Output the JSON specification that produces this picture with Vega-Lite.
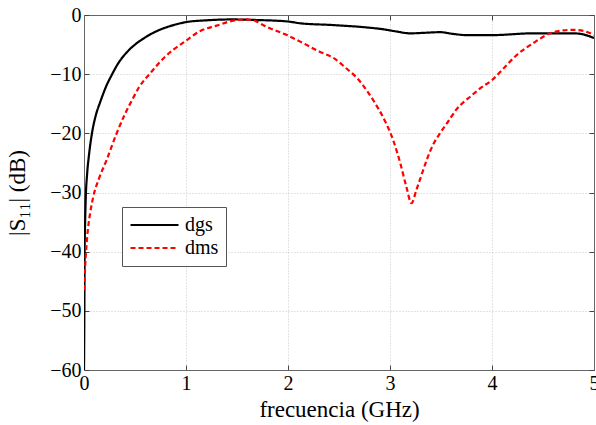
{
  "$schema": "https://vega.github.io/schema/vega-lite/v6.json",
  "width": 510,
  "height": 355,
  "autosize": "none",
  "padding": {"left": 84, "top": 15, "right": 2, "bottom": 55},
  "background": "white",
  "config": {
    "font": "Liberation Serif",
    "view": {"stroke": "#666666", "strokeWidth": 1},
    "axis": {
      "labelFont": "Liberation Serif",
      "titleFont": "Liberation Serif",
      "labelFontSize": 20,
      "titleFontSize": 23,
      "labelColor": "black",
      "titleColor": "black",
      "titleFontWeight": "normal",
      "labelFlush": false,
      "domainColor": "#666666",
      "tickColor": "#444444",
      "tickSize": -5,
      "labelPadding": 8,
      "gridColor": "#c8c8c8",
      "gridDash": [1, 2],
      "gridWidth": 1
    },
    "legend": {
      "labelFont": "Liberation Serif"
    }
  },
  "datasets": {
    "curves": [
      {"f": 0, "s11": -60, "serie": "dgs"},
      {"f": 0.002, "s11": -55, "serie": "dgs"},
      {"f": 0.004, "s11": -48, "serie": "dgs"},
      {"f": 0.006, "s11": -40, "serie": "dgs"},
      {"f": 0.011, "s11": -35, "serie": "dgs"},
      {"f": 0.018, "s11": -30.5, "serie": "dgs"},
      {"f": 0.03, "s11": -27, "serie": "dgs"},
      {"f": 0.05, "s11": -23.5, "serie": "dgs"},
      {"f": 0.078, "s11": -20, "serie": "dgs"},
      {"f": 0.115, "s11": -17, "serie": "dgs"},
      {"f": 0.157, "s11": -14.8, "serie": "dgs"},
      {"f": 0.229, "s11": -11.6, "serie": "dgs"},
      {"f": 0.27, "s11": -10.2, "serie": "dgs"},
      {"f": 0.327, "s11": -8.4, "serie": "dgs"},
      {"f": 0.425, "s11": -6.2, "serie": "dgs"},
      {"f": 0.5, "s11": -5.0, "serie": "dgs"},
      {"f": 0.59, "s11": -3.9, "serie": "dgs"},
      {"f": 0.68, "s11": -3.0, "serie": "dgs"},
      {"f": 0.78, "s11": -2.25, "serie": "dgs"},
      {"f": 0.9, "s11": -1.6, "serie": "dgs"},
      {"f": 1.0, "s11": -1.2, "serie": "dgs"},
      {"f": 1.2, "s11": -0.9, "serie": "dgs"},
      {"f": 1.45, "s11": -0.75, "serie": "dgs"},
      {"f": 1.7, "s11": -0.85, "serie": "dgs"},
      {"f": 2.0, "s11": -1.1, "serie": "dgs"},
      {"f": 2.12, "s11": -1.4, "serie": "dgs"},
      {"f": 2.44, "s11": -1.7, "serie": "dgs"},
      {"f": 2.77, "s11": -2.1, "serie": "dgs"},
      {"f": 2.93, "s11": -2.4, "serie": "dgs"},
      {"f": 3.05, "s11": -2.75, "serie": "dgs"},
      {"f": 3.2, "s11": -3.1, "serie": "dgs"},
      {"f": 3.35, "s11": -3.0, "serie": "dgs"},
      {"f": 3.49, "s11": -2.9, "serie": "dgs"},
      {"f": 3.62, "s11": -3.2, "serie": "dgs"},
      {"f": 3.75, "s11": -3.4, "serie": "dgs"},
      {"f": 4.0, "s11": -3.4, "serie": "dgs"},
      {"f": 4.4, "s11": -3.1, "serie": "dgs"},
      {"f": 4.8, "s11": -3.1, "serie": "dgs"},
      {"f": 4.9, "s11": -3.3, "serie": "dgs"},
      {"f": 5.0, "s11": -3.9, "serie": "dgs"},
      {"f": 0.003, "s11": -46.5, "serie": "dms"},
      {"f": 0.01, "s11": -43, "serie": "dms"},
      {"f": 0.02, "s11": -40, "serie": "dms"},
      {"f": 0.04, "s11": -36, "serie": "dms"},
      {"f": 0.06, "s11": -33.5, "serie": "dms"},
      {"f": 0.091, "s11": -30.7, "serie": "dms"},
      {"f": 0.15, "s11": -27.5, "serie": "dms"},
      {"f": 0.222, "s11": -24.5, "serie": "dms"},
      {"f": 0.32, "s11": -20, "serie": "dms"},
      {"f": 0.4, "s11": -16.8, "serie": "dms"},
      {"f": 0.483, "s11": -14.0, "serie": "dms"},
      {"f": 0.54, "s11": -12.2, "serie": "dms"},
      {"f": 0.647, "s11": -9.9, "serie": "dms"},
      {"f": 0.78, "s11": -7.3, "serie": "dms"},
      {"f": 0.88, "s11": -5.8, "serie": "dms"},
      {"f": 0.98, "s11": -4.6, "serie": "dms"},
      {"f": 1.14, "s11": -2.7, "serie": "dms"},
      {"f": 1.3, "s11": -1.8, "serie": "dms"},
      {"f": 1.45, "s11": -1.0, "serie": "dms"},
      {"f": 1.58, "s11": -0.75, "serie": "dms"},
      {"f": 1.66, "s11": -0.9, "serie": "dms"},
      {"f": 1.79, "s11": -2.0, "serie": "dms"},
      {"f": 1.99, "s11": -3.4, "serie": "dms"},
      {"f": 2.12, "s11": -4.5, "serie": "dms"},
      {"f": 2.31, "s11": -6.2, "serie": "dms"},
      {"f": 2.45, "s11": -7.3, "serie": "dms"},
      {"f": 2.57, "s11": -9.0, "serie": "dms"},
      {"f": 2.68, "s11": -10.7, "serie": "dms"},
      {"f": 2.77, "s11": -12.7, "serie": "dms"},
      {"f": 2.85, "s11": -14.8, "serie": "dms"},
      {"f": 2.93, "s11": -17.2, "serie": "dms"},
      {"f": 3.03, "s11": -21.1, "serie": "dms"},
      {"f": 3.1, "s11": -25, "serie": "dms"},
      {"f": 3.16, "s11": -29, "serie": "dms"},
      {"f": 3.21, "s11": -31.8, "serie": "dms"},
      {"f": 3.26, "s11": -29.5, "serie": "dms"},
      {"f": 3.31, "s11": -27, "serie": "dms"},
      {"f": 3.36, "s11": -24.5, "serie": "dms"},
      {"f": 3.42, "s11": -22, "serie": "dms"},
      {"f": 3.49, "s11": -20, "serie": "dms"},
      {"f": 3.57, "s11": -18, "serie": "dms"},
      {"f": 3.65, "s11": -16, "serie": "dms"},
      {"f": 3.8, "s11": -13.6, "serie": "dms"},
      {"f": 3.9, "s11": -12.2, "serie": "dms"},
      {"f": 4.0, "s11": -11, "serie": "dms"},
      {"f": 4.12, "s11": -8.9, "serie": "dms"},
      {"f": 4.24, "s11": -6.8, "serie": "dms"},
      {"f": 4.4, "s11": -4.8, "serie": "dms"},
      {"f": 4.57, "s11": -3.1, "serie": "dms"},
      {"f": 4.7, "s11": -2.6, "serie": "dms"},
      {"f": 4.8, "s11": -2.5, "serie": "dms"},
      {"f": 4.9, "s11": -2.7, "serie": "dms"},
      {"f": 5.0, "s11": -3.4, "serie": "dms"}
    ]
  },
  "data": {"name": "curves"},
  "layer": [
    {
      "mark": {"type": "line", "strokeWidth": 2.2, "interpolate": "monotone", "clip": true},
      "encoding": {
        "x": {
          "field": "f", "type": "quantitative",
          "scale": {"domain": [0, 5], "nice": false},
          "axis": {"orient": "bottom", "values": [0, 1, 2, 3, 4, 5], "title": "frecuencia (GHz)", "titlePadding": 5, "grid": true}
        },
        "y": {
          "field": "s11", "type": "quantitative",
          "scale": {"domain": [-60, 0], "nice": false},
          "axis": {"orient": "left", "values": [-60, -50, -40, -30, -20, -10, 0], "title": "|S₁₁| (dB)", "titlePadding": 20, "grid": true}
        },
        "color": {
          "field": "serie", "type": "nominal",
          "scale": {"domain": ["dgs", "dms"], "range": ["#000000", "#ff0000"]},
          "legend": {
            "orient": "none", "legendX": 38, "legendY": 192, "title": null,
            "symbolType": "stroke", "symbolSize": 2300, "symbolStrokeWidth": 2.2,
            "clipHeight": 22,
            "labelFont": "Liberation Serif",
            "labelFontSize": 20, "labelColor": "black",
            "strokeColor": "#555555", "fillColor": "white", "padding": 7,
            "rowPadding": 1, "labelOffset": 5
          }
        },
        "strokeDash": {
          "field": "serie", "type": "nominal",
          "scale": {"domain": ["dgs", "dms"], "range": [[1, 0], [5, 3]]},
          "legend": null
        }
      }
    },
    {
      "mark": {"type": "line", "strokeOpacity": 0},
      "encoding": {
        "x": {
          "field": "f", "type": "quantitative",
          "axis": {"orient": "top", "values": [0, 1, 2, 3, 4, 5], "labels": false, "title": null, "grid": false}
        },
        "y": {
          "field": "s11", "type": "quantitative",
          "axis": {"orient": "right", "values": [-60, -50, -40, -30, -20, -10, 0], "labels": false, "title": null, "grid": false}
        },
        "detail": {"field": "serie"}
      }
    }
  ],
  "resolve": {"axis": {"x": "independent", "y": "independent"}}
}
